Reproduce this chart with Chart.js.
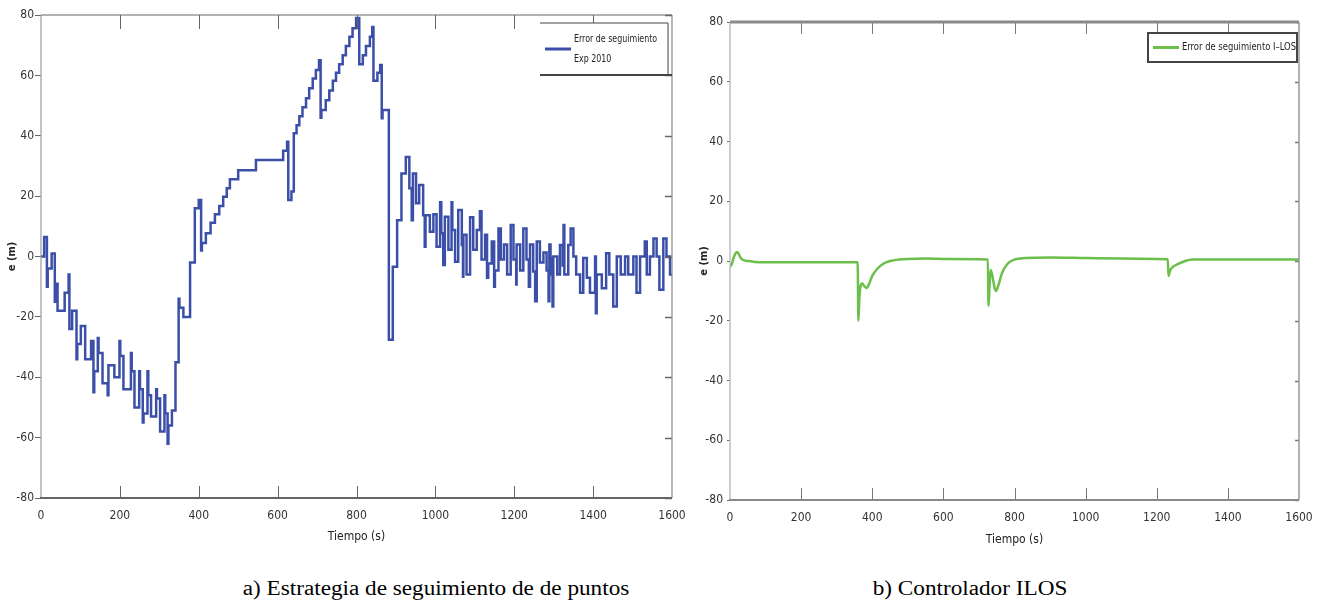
<!DOCTYPE html>
<html>
<head>
<meta charset="utf-8">
<script src="https://cdn.jsdelivr.net/npm/chart.js@4.4.1/dist/chart.umd.min.js"></script>
<style>
  body { margin: 0; background: #fff; width: 1324px; height: 602px; position: relative; overflow: hidden; }
  .wrap { position: absolute; top: 0; height: 552px; }
  #wrapA { left: 0; width: 690px; }
  #wrapB { left: 690px; width: 630px; }
  .cap { position: absolute; top: 577px; font-family: 'Liberation Serif', 'Times New Roman', serif; font-size: 20px; color: #000; transform: translateX(-50%) scaleX(1.16); white-space: nowrap; }
</style>
</head>
<body>
<div class="wrap" id="wrapA"><canvas id="chartA"></canvas></div>
<div class="wrap" id="wrapB"><canvas id="chartB"></canvas></div>
<div class="cap" style="left:436px">a) Estrategia de seguimiento de de puntos</div>
<div class="cap" style="left:970px">b) Controlador ILOS</div>
<script>
// tick labels
const xTicks = [0, 200, 400, 600, 800, 1000, 1200, 1400, 1600];
const yTicks = [-80, -60, -40, -20, 0, 20, 40, 60, 80];

// a) point-following strategy (step signal), time (s) / error (m)
const tiempoA = [
  0, 8, 15, 17, 27, 35, 37, 42, 60, 70, 72, 79, 90, 92, 101, 112, 127, 133, 135, 144,
  146, 156, 169, 171, 186, 199, 201, 209, 228, 230, 237, 249, 251, 258, 260, 270, 272, 279, 292, 294,
  302, 313, 315, 321, 323, 332, 341, 349, 351, 361, 378, 390, 400, 406, 408, 418, 430, 441, 452, 462,
  471, 479, 500, 545, 614, 624, 627, 635, 641, 648, 655, 663, 672, 680, 689, 697, 705, 709, 711, 722,
  731, 740, 748, 756, 765, 773, 782, 790, 799, 807, 816, 824, 834, 840, 843, 853, 860, 864, 866, 882,
  892, 903, 914, 925, 934, 940, 943, 951, 959, 969, 973, 975, 986, 995, 1003, 1012, 1015, 1020, 1024, 1033,
  1041, 1043, 1050, 1058, 1067, 1070, 1071, 1079, 1088, 1096, 1105, 1113, 1117, 1126, 1131, 1134, 1143, 1149, 1151, 1160,
  1166, 1174, 1182, 1191, 1198, 1205, 1206, 1215, 1223, 1231, 1237, 1240, 1248, 1253, 1257, 1265, 1274, 1282, 1287, 1289,
  1292, 1295, 1297, 1299, 1309, 1316, 1323, 1325, 1327, 1337, 1343, 1350, 1357, 1367, 1375, 1384, 1392, 1405, 1407, 1409,
  1422, 1433, 1441, 1451, 1460, 1470, 1481, 1489, 1502, 1510, 1519, 1531, 1536, 1544, 1553, 1561, 1568, 1578, 1586, 1595,
  1600
];
const errorA = [
  0, 6.5, -10, -4, 1, -15, -9, -18, -12, -6, -24, -18, -34, -29, -23, -34, -28, -45, -38, -27,
  -32, -42, -46, -36, -40, -28, -33, -44, -32, -38, -50, -38, -44, -55, -52, -38, -46, -53, -44, -47,
  -58, -46, -52, -62, -56, -51, -35, -14, -17, -20, -2, 16, 18.7, 2, 4.5, 7.7, 11.2, 14, 16.7, 19.8,
  22.6, 25.6, 28.6, 32, 35, 38, 18.7, 21.5, 40.8, 43.5, 46.5, 49.4, 52.4, 55.7, 59, 61.8, 65, 46, 48.5, 51.8,
  55, 58.2, 60.9, 63.7, 66.7, 69.7, 72.8, 75.6, 79, 63.7, 66.7, 69.7, 72.8, 76, 58.2, 60.9, 63.4, 45.8, 48.5, -27.6,
  -3.4, 12, 27.5, 33, 22.6, 12, 27.5, 17.6, 23.7, 13.7, 3.2, 13.7, 8.2, 14, 3.2, 18, 7.7, -2.8, 13.2, 2.2,
  18, 8.8, -1.7, 15.4, 3.8, -6.7, 7.2, -6, 13, 2.2, 8.8, 15, -1, 7.2, -7, -2.3, 5, -10, -4.6, 9.3,
  -1, 4, -6, 10.4, -1, -9.3, 4, -4.6, 9.3, -1, -10, 4, -5, -14.8, 5, -2, 1.3, -4.6, -14.8, 4,
  -6, -0.5, -16.6, 0, -6, 3.8, -3, 10.4, -6, 3.8, 9.3, 0, -6, -12, -0.5, -7, -12, 0, -18.8, -6,
  -10.5, 1.1, -6, -16.6, 0, -6, 0, -6, 0, -12, 0, 5, -6, 0, 6, 0, -11, 6, 0, -6,
  -6
];

// b) ILOS controller, time (s) / error (m)
const tiempoB = [
  0, 5, 10, 15, 20, 25, 30, 40, 50, 70, 100, 200, 300, 359, 361, 364, 368, 372, 378, 385,
  390, 400, 415, 430, 450, 475, 500, 550, 600, 700, 725, 727, 730, 733, 738, 744, 748, 755, 765, 780,
  800, 830, 900, 1000, 1100, 1200, 1231, 1233, 1238, 1245, 1260, 1280, 1300, 1400, 1500, 1600
];
const errorB = [
  -2, -1, 1, 2.5, 3, 2.2, 1, 0.2, 0, -0.3, -0.4, -0.4, -0.4, -0.4, -20, -12, -8, -7.5, -8.5, -9,
  -8, -5, -2.5, -1, 0, 0.5, 0.7, 0.8, 0.7, 0.6, 0.5, -15, -8, -3, -5, -9, -10, -8, -4, -1,
  0.5, 1, 1.2, 1, 0.8, 0.7, 0.6, -5, -3, -2, -1, 0, 0.5, 0.5, 0.5, 0.5
];

const FONT = "'Liberation Sans Narrow', 'DejaVu Sans Condensed', 'Arial Narrow', sans-serif";

// MATLAB-like box: inward ticks on bottom/top/right
const frame = {
  id: 'frame',
  afterDatasetsDraw(chart, args, o) {
    const { ctx, chartArea: a, scales: { x, y } } = chart;
    const line = (x1, y1, x2, y2, c, w) => {
      ctx.strokeStyle = c; ctx.lineWidth = w;
      ctx.beginPath(); ctx.moveTo(x1, y1); ctx.lineTo(x2, y2); ctx.stroke();
    };
    ctx.save();
    x.ticks.forEach(t => {
      const px = Math.round(x.getPixelForValue(t.value)) + 0.5;
      if (px <= a.left + 2 || px >= a.right - 2) return;
      line(px, a.bottom, px, a.bottom - o.inB, o.tick, 1);
      line(px, a.top, px, a.top + o.inT, o.tick, 1);
    });
    y.ticks.forEach(t => {
      const py = Math.round(y.getPixelForValue(t.value)) + 0.5;
      line(a.right, py, a.right - o.inR, py, o.tick, 1.5);
    });
    line(a.left, a.top, a.left, a.bottom, o.leftC, o.leftW);
    line(a.right, a.top, a.right, a.bottom, o.rightC, o.rightW);
    line(a.left, a.top, a.right, a.top, o.topC, o.topW);
    line(a.left - 1, a.bottom, a.right, a.bottom, o.botC, o.botW);
    ctx.restore();
  }
};

// legend box drawn inside the plot area
const boxLegend = {
  id: 'boxLegend',
  afterDraw(chart, args, o) {
    const { ctx, chartArea: a } = chart;
    const ds = chart.data.datasets[0];
    const lines = ds.label.split('\n');
    const x0 = a.right - o.right - o.width, y0 = a.top + o.top;
    ctx.save();
    ctx.fillStyle = '#fff';
    ctx.fillRect(x0, y0, o.width, o.height);
    ctx.strokeStyle = '#444';
    if (o.full) {
      ctx.lineWidth = 2;
      ctx.strokeRect(x0, y0, o.width, o.height);
    } else {
      ctx.lineWidth = 1;
      ctx.beginPath(); ctx.moveTo(x0, y0); ctx.lineTo(x0 + o.width, y0); ctx.stroke();
      ctx.beginPath(); ctx.moveTo(x0 + o.width, y0); ctx.lineTo(x0 + o.width, y0 + o.height); ctx.stroke();
      ctx.lineWidth = 2;
      ctx.beginPath(); ctx.moveTo(x0, y0 + o.height); ctx.lineTo(x0 + o.width + 4, y0 + o.height); ctx.stroke();
    }
    const midY = y0 + o.height / 2;
    ctx.strokeStyle = ds.borderColor; ctx.lineWidth = 3;
    ctx.beginPath(); ctx.moveTo(x0 + 5, midY); ctx.lineTo(x0 + 31, midY); ctx.stroke();
    ctx.fillStyle = '#222';
    ctx.font = o.fontSize + 'px ' + FONT;
    ctx.textBaseline = 'middle';
    const lh = o.fontSize * 1.8;
    lines.forEach((s, i) => {
      ctx.save();
      ctx.translate(x0 + 34, midY + (i - (lines.length - 1) / 2) * lh);
      ctx.scale(o.squeeze, 1);
      ctx.fillText(s, 0, 0);
      ctx.restore();
    });
    ctx.restore();
  }
};

function makeChart(id, t, v, opt) {
  return new Chart(document.getElementById(id), {
    type: 'line',
    data: {
      datasets: [{
        label: opt.label,
        data: t.map((tt, i) => ({ x: tt, y: v[i] })),
        borderColor: opt.color,
        borderWidth: opt.width,
        pointRadius: 0,
        stepped: opt.stepped,
        cubicInterpolationMode: opt.stepped ? 'default' : 'monotone',
        fill: false
      }]
    },
    options: {
      responsive: true,
      maintainAspectRatio: false,
      animation: false,
      layout: { padding: opt.padding },
      plugins: {
        legend: { display: false },
        tooltip: { enabled: false },
        frame: opt.frame,
        boxLegend: opt.legend
      },
      scales: {
        x: {
          type: 'linear',
          min: xTicks[0],
          max: xTicks[xTicks.length - 1],
          afterBuildTicks: s => { s.ticks = xTicks.map(value => ({ value })); },
          afterFit: s => { s.height = opt.xHeight; s.paddingLeft = 0; s.paddingRight = 0; },
          grid: { display: false, drawTicks: false },
          border: { display: false },
          ticks: { padding: 11, maxRotation: 0, autoSkip: false, color: '#333', font: { family: FONT, size: 12 }, callback: val => String(val) },
          title: { display: true, text: 'Tiempo (s)', color: '#222', padding: { top: 0, bottom: opt.titlePadB }, font: { family: FONT, size: 12 } }
        },
        y: {
          min: yTicks[0],
          max: yTicks[yTicks.length - 1],
          afterBuildTicks: s => { s.ticks = yTicks.map(value => ({ value })); },
          afterFit: s => { s.width = opt.yWidth; s.paddingTop = 0; s.paddingBottom = 0; },
          grid: { drawOnChartArea: false, drawTicks: true, tickLength: opt.yTick, color: '#666' },
          border: { display: false },
          ticks: { padding: opt.yPad, color: '#333', font: { family: FONT, size: 12 }, callback: val => String(val) },
          title: { display: true, text: 'e (m)', color: '#222', padding: { top: opt.yTitlePad, bottom: 0 }, font: { family: FONT, size: 11, weight: 'bold' } }
        }
      }
    },
    plugins: [frame, boxLegend]
  });
}

makeChart('chartA', tiempoA, errorA, {
  label: 'Error de seguimiento\nExp 2010',
  color: '#3b4fa8',
  width: 2.5,
  stepped: true,
  padding: { left: 0, top: 15, right: 18, bottom: 0 },
  xHeight: 54, titlePadB: 8,
  yWidth: 41, yTick: 6, yPad: 1, yTitlePad: 6,
  frame: { tick: '#666', inB: 12, inT: 14, inR: 7, leftC: '#9a9a9a', leftW: 1.2, rightC: '#888', rightW: 1.2, topC: '#666', topW: 1.2, botC: '#666', botW: 2 },
  legend: { width: 128, height: 52, right: 4, top: 8, fontSize: 11, full: false, squeeze: 0.8 }
});

makeChart('chartB', tiempoB, errorB, {
  label: 'Error de seguimiento I\u2013LOS',
  color: '#6bbf4a',
  width: 2.5,
  stepped: false,
  padding: { left: 0, top: 22, right: 21, bottom: 0 },
  xHeight: 52, titlePadB: 5,
  yWidth: 40, yTick: 3, yPad: 4, yTitlePad: 8,
  frame: { tick: '#777', inB: 12, inT: 12, inR: 4, leftC: '#bdbdbd', leftW: 1.5, rightC: '#999', rightW: 1.5, topC: '#8a8a8a', topW: 3, botC: '#888', botW: 2 },
  legend: { width: 149, height: 29, right: 2, top: 11, fontSize: 11, full: true, squeeze: 0.85 }
});
</script>
</body>
</html>
